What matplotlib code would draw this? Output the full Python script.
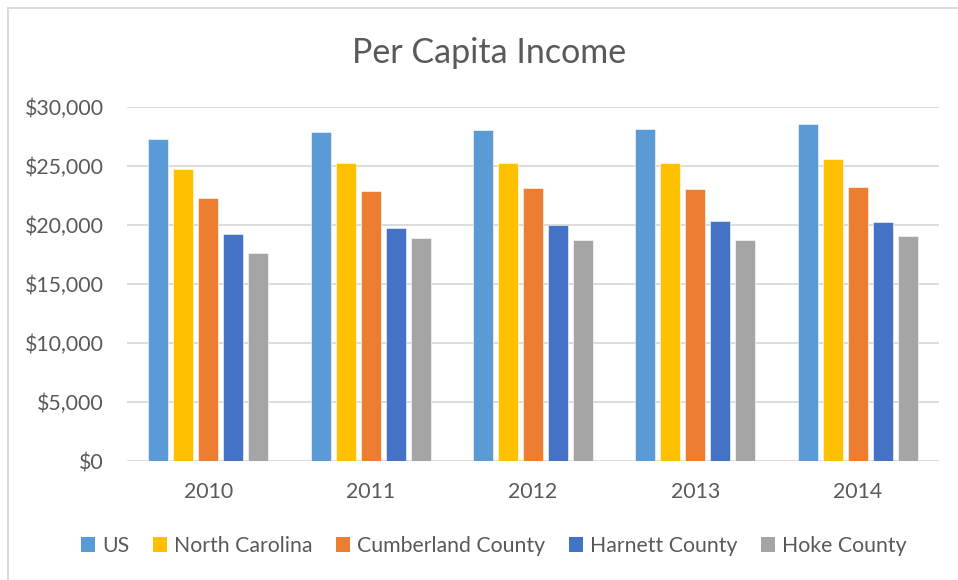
import matplotlib.pyplot as plt
import numpy as np
from matplotlib.lines import Line2D
from matplotlib.patches import Patch

years = ["2010", "2011", "2012", "2013", "2014"]
series_names = ["US", "North Carolina", "Cumberland County", "Harnett County", "Hoke County"]
us = [27300, 27900, 28050, 28130, 28530]
north_carolina = [24750, 25250, 25280, 25280, 25590]
cumberland = [22260, 22850, 23100, 23050, 23190]
harnett = [19260, 19720, 20000, 20310, 20250]
hoke = [17600, 18870, 18730, 18760, 19040]
colors = ["#5B9BD5", "#FFC000", "#ED7D31", "#4472C4", "#A5A5A5"]

W, H = 958, 580
fig = plt.figure(figsize=(W / 100, H / 100), dpi=100, facecolor="white")
plt.rcParams["font.family"] = ["Lato", "DejaVu Sans"]
text_color = "#595959"
grid_color = "#D9D9D9"

# chart frame (top and left edges visible)
fig.add_artist(Line2D([8 / W, 8 / W], [0, 1 - 8 / H], color=grid_color, lw=1.3))
fig.add_artist(Line2D([8 / W, 1], [1 - 8 / H, 1 - 8 / H], color=grid_color, lw=1.3))

ax = fig.add_axes([127 / W, 1 - 461 / H, 812 / W, 354 / H])

data = [us, north_carolina, cumberland, harnett, hoke]
x = np.arange(len(years))
step = 0.154
width = 0.123
for i, (vals, c) in enumerate(zip(data, colors)):
    ax.bar(x + (i - 2) * step, vals, width=width, color=c, zorder=3,
           edgecolor="white", linewidth=0.4)

ax.set_xlim(-0.5, len(years) - 0.5)
ax.set_ylim(0, 30000)
ax.set_yticks(np.arange(0, 30001, 5000))
ax.set_yticklabels([f"${v:,.0f}" for v in np.arange(0, 30001, 5000)])
ax.set_xticks(x)
ax.set_xticklabels(years)
ax.grid(axis="y", color=grid_color, lw=1.3, zorder=0)
ax.tick_params(length=0, labelsize=15.3, colors=text_color)
ax.tick_params(axis="y", pad=16.5)
ax.tick_params(axis="x", pad=15)
for s in ax.spines.values():
    s.set_visible(False)

fig.text(489 / W, 1 - 53 / H, "Per Capita Income", ha="center", va="center",
         fontsize=24.5, color=text_color)

handles = [Patch(facecolor=c, edgecolor="none") for c in colors]
fig.legend(handles, series_names, loc="center", bbox_to_anchor=(494 / W, 1 - 546 / H),
           ncol=5, frameon=False, fontsize=15.3, labelcolor=text_color,
           handlelength=0.65, handleheight=0.65, handletextpad=0.35, columnspacing=1.1)

fig.savefig("out.png", dpi=100, facecolor="white")
